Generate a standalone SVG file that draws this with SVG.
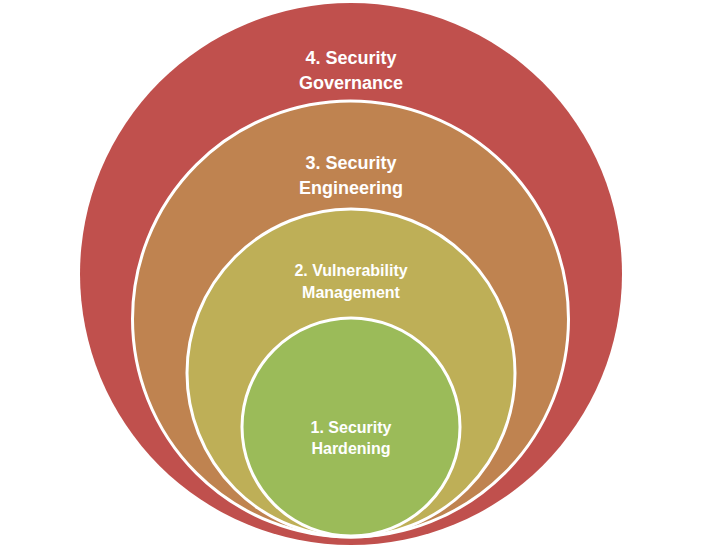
<svg xmlns="http://www.w3.org/2000/svg" width="702" height="548" viewBox="0 0 702 548">
  <style>
    .ring { stroke: #FFFFFF; stroke-width: 3; }
    .lbl { font-family: "Liberation Sans", Arial, sans-serif; font-weight: bold; fill: #FFFFFF; text-anchor: middle; }
    .big { font-size: 18px; }
    .small { font-size: 16px; }
  </style>
  <rect width="702" height="548" fill="#FFFFFF"/>
  <g id="governance">
    <circle cx="351" cy="274" r="271" fill="#C0504D"/>
    <text class="lbl big" x="351" y="64">4. Security</text>
    <text class="lbl big" x="351" y="89">Governance</text>
  </g>
  <g id="engineering">
    <circle class="ring" cx="350.5" cy="319" r="218" fill="#BF8350"/>
    <text class="lbl big" x="351" y="169">3. Security</text>
    <text class="lbl big" x="351" y="194">Engineering</text>
  </g>
  <g id="vulnerability">
    <circle class="ring" cx="351" cy="373" r="164" fill="#BEAF57"/>
    <text class="lbl small" x="351" y="276">2. Vulnerability</text>
    <text class="lbl small" x="351" y="298">Management</text>
  </g>
  <g id="hardening">
    <circle class="ring" cx="351" cy="427" r="109" fill="#9BBB59"/>
    <text class="lbl small" x="351" y="433">1. Security</text>
    <text class="lbl small" x="351" y="454">Hardening</text>
  </g>
</svg>
